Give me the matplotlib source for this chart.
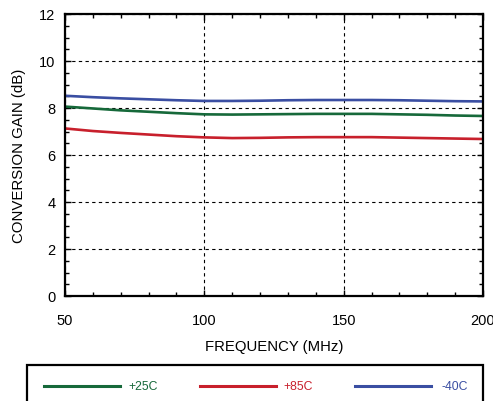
import matplotlib
matplotlib.use('Agg')
import matplotlib.pyplot as plt
from matplotlib.lines import Line2D
from matplotlib.patches import Rectangle
from matplotlib.ticker import MultipleLocator

plt.rcParams['font.family'] = ['Liberation Sans', 'DejaVu Sans']

# Данные
freq = [50, 60, 70, 80, 90, 100, 110, 120, 130, 140, 150, 160, 170, 180, 190, 200]
gain_25 = [8.06, 7.98, 7.90, 7.84, 7.78, 7.73, 7.72, 7.73, 7.74, 7.75, 7.75, 7.75, 7.73, 7.71, 7.68, 7.66]
gain_85 = [7.13, 7.02, 6.94, 6.87, 6.80, 6.75, 6.72, 6.73, 6.75, 6.76, 6.76, 6.76, 6.74, 6.72, 6.70, 6.68]
gain_m40 = [8.52, 8.46, 8.41, 8.37, 8.33, 8.30, 8.30, 8.31, 8.33, 8.34, 8.34, 8.34, 8.33, 8.31, 8.29, 8.28]

labels = ['+25C', '+85C', '-40C']
colors = ['#16693a', '#c8202c', '#3a4ea2']
series = [gain_25, gain_85, gain_m40]

fig = plt.figure(figsize=(4.93, 4.02), dpi=100)
ax = fig.add_axes([65/493, 1 - 297/402, 418/493, 282/402])

for g, c in zip(series, colors):
    ax.plot(freq, g, color=c, linewidth=1.9, solid_capstyle='butt')

ax.set_xlim(50, 200)
ax.set_ylim(0, 12)
ax.xaxis.set_major_locator(MultipleLocator(50))
ax.xaxis.set_minor_locator(MultipleLocator(10))
ax.yaxis.set_major_locator(MultipleLocator(2))
ax.yaxis.set_minor_locator(MultipleLocator(0.5))
ax.tick_params(which='both', direction='in', top=True, right=True, width=1, colors='black')
ax.tick_params(which='major', length=4, labelsize=10.5)
ax.tick_params(which='minor', length=3)
ax.tick_params(axis='x', which='major', pad=12)
ax.tick_params(axis='y', which='major', pad=7)
for s in ax.spines.values():
    s.set_linewidth(1.6)

ax.grid(True, which='major', color='black', linestyle=(0, (3, 3)), linewidth=0.8)

ax.set_xlabel('FREQUENCY (MHz)', fontsize=10.7, labelpad=9)
ax.set_ylabel('CONVERSION GAIN (dB)', fontsize=10.8, labelpad=9)

# Легенда в рамке под графиком
fig.add_artist(Rectangle((27/493, -0.05), 456/493, 0.05 + 1 - 366/402,
                         transform=fig.transFigure, fill=False,
                         edgecolor='black', linewidth=1.6))
ly = 1 - 387/402
line_x = [44, 200, 355]
text_x = [128, 283, 442]
for lx, tx, lab, c in zip(line_x, text_x, labels, colors):
    fig.add_artist(Line2D([lx/493, (lx + 76)/493], [ly, ly], transform=fig.transFigure,
                          color=c, linewidth=2.2))
    fig.text(tx/493, ly, lab, color=c, fontsize=8.8, va='center', ha='left')

fig.savefig('out.png', dpi=100)
